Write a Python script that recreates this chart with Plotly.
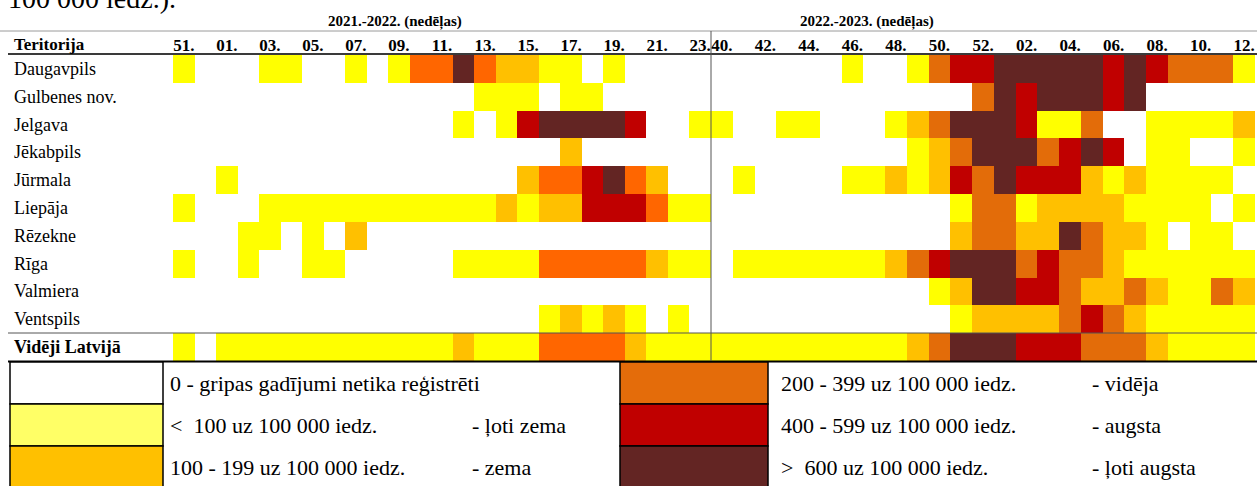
import plotly.graph_objects as go

# ---------------- data ----------------
season_titles = ["2021.-2022. (nedēļas)", "2022.-2023. (nedēļas)"]

weeks_2122 = ["51.", "52.", "01.", "02.", "03.", "04.", "05.", "06.", "07.", "08.", "09.", "10.",
              "11.", "12.", "13.", "14.", "15.", "16.", "17.", "18.", "19.", "20.", "21.", "22.", "23."]
weeks_2223 = ["40.", "41.", "42.", "43.", "44.", "45.", "46.", "47.", "48.", "49.", "50.", "51.",
              "52.", "01.", "02.", "03.", "04.", "05.", "06.", "07.", "08.", "09.", "10.", "11.", "12."]
ticks_2122 = ["51.", "01.", "03.", "05.", "07.", "09.", "11.", "13.", "15.", "17.", "19.", "21.", "23."]
ticks_2223 = ["40.", "42.", "44.", "46.", "48.", "50.", "52.", "02.", "04.", "06.", "08.", "10.", "12."]

territories = ["Daugavpils", "Gulbenes nov.", "Jelgava", "Jēkabpils", "Jūrmala", "Liepāja",
               "Rēzekne", "Rīga", "Valmiera", "Ventspils", "Vidēji Latvijā"]

# intensity level: 0 none, 1 <100, 2 100-199, 3 200-399, 4 400-599, 5 >600
levels_2122 = [
    [1,0,0,0,1,1,0,0,1,0,1,3,3,5,3,2,2,1,1,0,1,0,0,0,0],
    [0,0,0,0,0,0,0,0,0,0,0,0,0,0,1,1,1,0,1,1,0,0,0,0,0],
    [0,0,0,0,0,0,0,0,0,0,0,0,0,1,0,1,4,5,5,5,5,4,0,0,1],
    [0,0,0,0,0,0,0,0,0,0,0,0,0,0,0,0,0,0,2,0,0,0,0,0,0],
    [0,0,1,0,0,0,0,0,0,0,0,0,0,0,0,0,2,3,3,4,5,3,2,0,0],
    [1,0,0,0,1,1,1,1,1,1,1,1,1,1,1,2,1,2,2,4,4,4,3,1,1],
    [0,0,0,1,1,0,1,0,2,0,0,0,0,0,0,0,0,0,0,0,0,0,0,0,0],
    [1,0,0,1,0,0,1,1,0,0,0,0,0,1,1,1,1,3,3,3,3,3,2,1,1],
    [0,0,0,0,0,0,0,0,0,0,0,0,0,0,0,0,0,0,0,0,0,0,0,0,0],
    [0,0,0,0,0,0,0,0,0,0,0,0,0,0,0,0,0,1,2,1,2,1,0,1,0],
    [1,0,1,1,1,1,1,1,1,1,1,1,1,2,1,1,1,3,3,3,3,2,1,1,1],
]
levels_2223 = [
    [0,0,0,0,0,0,1,0,0,1,3,4,4,5,5,5,5,5,4,5,4,3,3,3,1],
    [0,0,0,0,0,0,0,0,0,0,0,0,3,5,4,5,5,5,4,5,0,0,0,0,0],
    [1,0,0,1,1,0,0,0,1,2,3,5,5,5,4,1,1,3,0,0,1,1,1,1,2],
    [0,0,0,0,0,0,0,0,0,1,2,3,5,5,5,3,4,5,4,0,1,1,0,0,1],
    [0,1,0,0,0,0,1,1,2,1,2,4,3,5,4,4,4,2,1,2,1,1,1,1,0],
    [0,0,0,0,0,0,0,0,0,0,0,1,3,3,1,2,2,2,2,1,1,1,1,0,1],
    [0,0,0,0,0,0,0,0,0,0,0,2,3,3,2,2,5,3,2,2,1,0,1,1,0],
    [0,1,1,1,1,1,1,1,2,3,4,5,5,5,3,4,3,3,2,1,1,1,1,1,1],
    [0,0,0,0,0,0,0,0,0,0,1,2,5,5,4,4,3,2,2,3,2,1,1,3,2],
    [0,0,0,0,0,0,0,0,0,0,0,1,2,2,2,2,3,4,3,2,1,1,1,1,1],
    [1,1,1,1,1,1,1,1,1,2,3,5,5,5,4,4,4,3,3,3,2,1,1,1,1],
]

colors_2122 = ["#FFFFFF", "#FFFF00", "#FFC000", "#FF6600", "#C00000", "#632523"]
colors_2223 = ["#FFFFFF", "#FFFF00", "#FFC000", "#E36C09", "#C00000", "#632523"]
legend_colors = ["#FFFFFF", "#FFFF66", "#FFC000", "#E46C0A", "#C00000", "#632523"]
legend_ranges = ["0 - gripas gadījumi netika reģistrēti", "<  100 uz 100 000 iedz.",
                 "100 - 199 uz 100 000 iedz.", "200 - 399 uz 100 000 iedz.",
                 "400 - 599 uz 100 000 iedz.", ">  600 uz 100 000 iedz."]
legend_levels = ["", "- ļoti zema", "- zema", "- vidēja", "- augsta", "- ļoti augsta"]
cut_title = "100 000 iedz.)."

# ---------------- layout constants ----------------
W, H = 1257, 486
ML, MR, MT, MB = 173, 2, 55, 125
PW = W - ML - MR
PH = H - MT - MB
SERIF = "Liberation Serif, Times New Roman, serif"


def px(p):
    return (p - ML) / PW


def py(p):
    return (H - MB - p) / PH


def step_scale(colors):
    n = len(colors)
    cs = []
    for i, c in enumerate(colors):
        cs.append([i / n, c])
        cs.append([(i + 1) / n, c])
    return cs


split = px(711)

fig = go.Figure()
fig.add_trace(go.Heatmap(z=levels_2122, x=weeks_2122, y=territories,
                         colorscale=step_scale(colors_2122), zmin=-0.5, zmax=5.5,
                         showscale=False, hoverinfo="skip", xaxis="x", yaxis="y"))
fig.add_trace(go.Heatmap(z=levels_2223, x=weeks_2223, y=territories,
                         colorscale=step_scale(colors_2223), zmin=-0.5, zmax=5.5,
                         showscale=False, hoverinfo="skip", xaxis="x2", yaxis="y"))

tickfont = dict(family=SERIF, size=17, color="black", weight="bold")
common_x = dict(side="top", type="category", showgrid=False, zeroline=False, ticks="",
                showline=False, tickfont=tickfont, fixedrange=True, tickangle=0)

shapes = []
line_dark = dict(color="#3a3a3a", width=2)
# horizontal rules
shapes.append(dict(type="line", xref="paper", yref="paper", x0=px(0), x1=px(W), y0=py(31), y1=py(31),
                   line=dict(color="#9a9a9a", width=1)))
shapes.append(dict(type="line", xref="paper", yref="paper", x0=px(8), x1=px(W), y0=py(54), y1=py(54),
                   line=line_dark))
shapes.append(dict(type="line", xref="paper", yref="paper", x0=px(8), x1=px(W), y0=py(333), y1=py(333),
                   line=dict(color="#555555", width=1)))
shapes.append(dict(type="line", xref="paper", yref="paper", x0=px(8), x1=px(W), y0=py(361.5), y1=py(361.5),
                   line=dict(color="black", width=2)))
# season divider
shapes.append(dict(type="line", xref="paper", yref="paper", x0=split, x1=split, y0=py(31), y1=py(361),
                   line=dict(color="#555555", width=1)))

# legend table
row_edges = [362, 404, 446, 488]
sw_cols = [(10, 163), (620, 768)]
for i in range(6):
    c = i // 3
    r = i % 3
    x0, x1 = sw_cols[c]
    shapes.append(dict(type="rect", xref="paper", yref="paper",
                       x0=px(x0), x1=px(x1), y0=py(row_edges[r]), y1=py(row_edges[r + 1]),
                       fillcolor=legend_colors[i], line=dict(color="black", width=1.5), layer="above"))

annotations = []
# cut title at the very top (clipped in the reference as well)
annotations.append(dict(text=cut_title, xref="paper", yref="paper", x=px(6), y=py(-2),
                        xanchor="left", yanchor="middle", showarrow=False,
                        font=dict(family=SERIF, size=28, color="black")))
# season titles
for t, cx in zip(season_titles, [395, 867]):
    annotations.append(dict(text=t, xref="paper", yref="paper", x=px(cx), y=py(22),
                            xanchor="center", yanchor="middle", showarrow=False,
                            font=dict(family=SERIF, size=15, color="black", weight="bold")))
annotations.append(dict(text="Teritorija", xref="paper", yref="paper", x=px(12), y=py(45),
                        xanchor="left", yanchor="middle", showarrow=False,
                        font=dict(family=SERIF, size=17, color="black", weight="bold")))
# row labels
for i, t in enumerate(territories):
    bold = (i == len(territories) - 1)
    annotations.append(dict(text=t, xref="paper", yref="y", x=px(12), y=t,
                            xanchor="left", yanchor="middle", showarrow=False,
                            font=dict(family=SERIF, size=18, color="black",
                                      weight="bold" if bold else "normal")))
# legend texts
text_x = [(168, 470), (779, 1090)]
row_mid = [383, 425, 467]
for i in range(6):
    c = i // 3
    r = i % 3
    annotations.append(dict(text=legend_ranges[i], xref="paper", yref="paper",
                            x=px(text_x[c][0]), y=py(row_mid[r]), xanchor="left", yanchor="middle",
                            showarrow=False, font=dict(family=SERIF, size=22, color="black")))
    if legend_levels[i]:
        annotations.append(dict(text=legend_levels[i], xref="paper", yref="paper",
                                x=px(text_x[c][1]), y=py(row_mid[r]), xanchor="left", yanchor="middle",
                                showarrow=False, font=dict(family=SERIF, size=22, color="black")))

fig.update_layout(
    width=W, height=H,
    margin=dict(l=ML, r=MR, t=MT, b=MB, pad=0),
    paper_bgcolor="white", plot_bgcolor="white",
    xaxis=dict(domain=[0, split], anchor="y", tickvals=ticks_2122, ticktext=ticks_2122, **common_x),
    xaxis2=dict(domain=[split, 1], anchor="y", tickvals=ticks_2223, ticktext=ticks_2223, **common_x),
    yaxis=dict(type="category", autorange="reversed", showticklabels=False, showgrid=False,
               zeroline=False, ticks="", fixedrange=True),
    shapes=shapes,
    annotations=annotations,
    showlegend=False,
)

fig.write_html("out.html", config={"displayModeBar": False},
               post_script="document.body.style.margin='0';document.body.style.overflow='hidden';")
